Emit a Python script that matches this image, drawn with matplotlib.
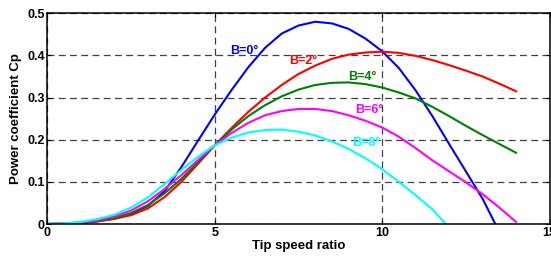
import matplotlib.pyplot as plt

plt.rcParams['font.family'] = ['Liberation Sans', 'DejaVu Sans']
plt.rcParams['font.weight'] = 'bold'

# ========================
# Cp curves (tip speed ratio -> Cp)
# ========================
tsr_b0 = [0, 0.5, 1, 1.5, 2, 2.5, 3, 3.5, 4, 4.5, 5, 5.5, 6, 6.5, 7, 7.5, 8, 8.5,
          9, 9.5, 10, 10.5, 11, 11.5, 12, 12.5, 13, 13.38]
cp_b0 = [0, 0.001, 0.003, 0.007, 0.013, 0.024, 0.043, 0.078, 0.135, 0.198, 0.26, 0.318,
         0.372, 0.418, 0.452, 0.471, 0.48, 0.476, 0.463, 0.44, 0.41, 0.37, 0.317, 0.256,
         0.19, 0.125, 0.06, 0.0]

tsr_b2 = [0, 0.5, 1, 1.5, 2, 2.5, 3, 3.5, 4, 4.5, 5, 5.5, 6, 6.5, 7, 7.5, 8, 8.5,
          9, 9.5, 10, 10.5, 11, 11.5, 12, 12.5, 13, 13.5, 14]
cp_b2 = [0, 0.0005, 0.002, 0.006, 0.012, 0.021, 0.037, 0.064, 0.1, 0.143, 0.187, 0.228,
         0.266, 0.3, 0.33, 0.356, 0.376, 0.392, 0.402, 0.407, 0.409, 0.406, 0.399, 0.389,
         0.377, 0.364, 0.35, 0.333, 0.315]

tsr_b4 = tsr_b2
cp_b4 = [0, 0.0008, 0.003, 0.007, 0.014, 0.026, 0.045, 0.073, 0.107, 0.147, 0.187, 0.224,
         0.256, 0.282, 0.303, 0.319, 0.33, 0.335, 0.336, 0.332, 0.324, 0.312, 0.298, 0.278,
         0.256, 0.233, 0.211, 0.19, 0.169]

tsr_b6 = tsr_b2
cp_b6 = [0, 0.001, 0.004, 0.009, 0.018, 0.032, 0.054, 0.083, 0.116, 0.152, 0.187, 0.216,
         0.24, 0.258, 0.268, 0.273, 0.273, 0.268, 0.258, 0.245, 0.229, 0.207, 0.18, 0.151,
         0.125, 0.099, 0.071, 0.039, 0.005]

tsr_b8 = [0, 0.5, 1, 1.5, 2, 2.5, 3, 3.5, 4, 4.5, 5, 5.5, 6, 6.5, 7, 7.5, 8, 8.5,
          9, 9.5, 10, 10.5, 11, 11.5, 11.9]
cp_b8 = [0, 0.0015, 0.005, 0.012, 0.022, 0.039, 0.063, 0.095, 0.128, 0.16, 0.187, 0.205,
         0.217, 0.223, 0.224, 0.219, 0.21, 0.196, 0.178, 0.156, 0.13, 0.1, 0.068, 0.035, 0.0]

curves = [
    (tsr_b0, cp_b0, 'blue', 'B=0°', (5.89, 0.41)),
    (tsr_b2, cp_b2, 'red', 'B=2°', (7.64, 0.387)),
    (tsr_b4, cp_b4, (0, 0.5, 0), 'B=4°', (9.42, 0.348)),
    (tsr_b6, cp_b6, 'magenta', 'B=6°', (9.61, 0.27)),
    (tsr_b8, cp_b8, 'cyan', 'B=8°', (9.52, 0.192)),
]

fig = plt.figure(figsize=(5.51, 2.57), dpi=100)
ax = fig.add_axes([0.0862, 0.1284, 0.9111, 0.8198])

for xs, ys, col, lab, (tx, ty) in curves:
    ax.plot(xs, ys, color=col, linewidth=1.5)
    ax.text(tx, ty, lab, color=col, fontsize=9, fontweight='bold',
            ha='center', va='center')

ax.set_xlim(0, 15)
ax.set_ylim(0, 0.5)
ax.set_xticks([0, 5, 10, 15])
ax.set_yticks([0, 0.1, 0.2, 0.3, 0.4, 0.5])
ax.set_yticklabels(['0', '0.1', '0.2', '0.3', '0.4', '0.5'])

# matlab style dashed grid
ax.grid(True, color='0.25', linestyle=(0, (5.5, 3.5)), linewidth=0.9)
ax.set_axisbelow(True)

ax.tick_params(direction='in', length=3, width=0.8, top=True, right=True,
               labelsize=9, pad=2)
for lbl in ax.get_xticklabels() + ax.get_yticklabels():
    lbl.set_fontweight('bold')
for sp in ax.spines.values():
    sp.set_linewidth(1.1)

ax.set_xlabel('Tip speed ratio', fontsize=9.5, fontweight='bold', labelpad=1)
ax.set_ylabel('Power coefficient Cp', fontsize=9.5, fontweight='bold', labelpad=4)

fig.savefig('out.png', dpi=100)
